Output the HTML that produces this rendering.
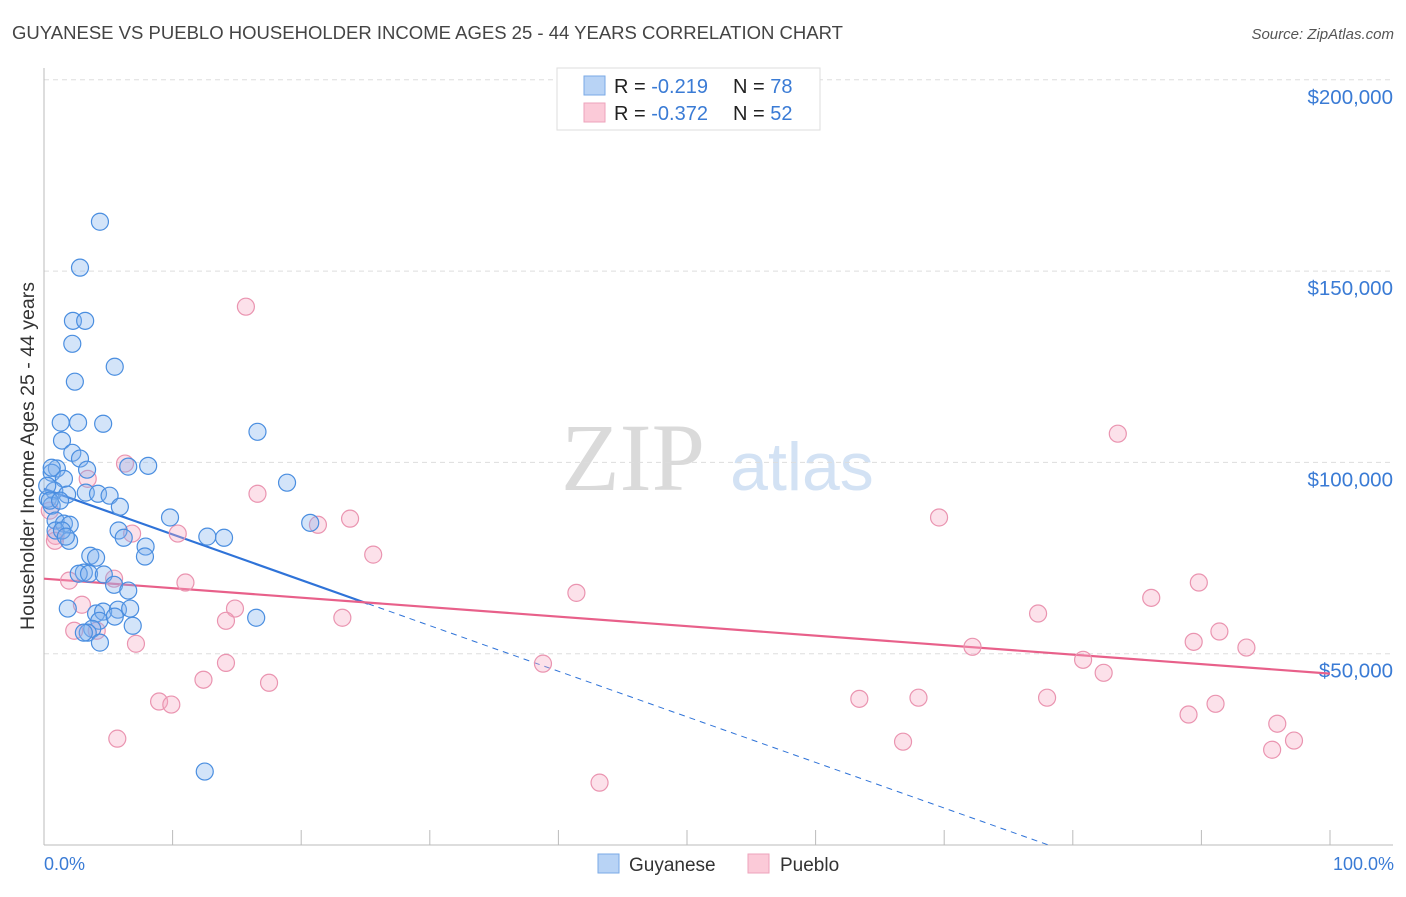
<!DOCTYPE html>
<html><head><meta charset="utf-8"><style>
body{margin:0;background:#fff;font-family:"Liberation Sans",sans-serif}
svg text{font-family:"Liberation Sans",sans-serif}
</style></head><body>
<svg id="chart" width="1406" height="892">
<text x="12" y="39" font-size="18" fill="#444" textLength="831" lengthAdjust="spacingAndGlyphs">GUYANESE VS PUEBLO HOUSEHOLDER INCOME AGES 25 - 44 YEARS CORRELATION CHART</text>
<text x="1394" y="39" font-size="15" fill="#555" font-style="italic" text-anchor="end">Source: ZipAtlas.com</text>
<text x="0" y="0" font-size="19.5" fill="#333" text-anchor="middle" transform="translate(34,456) rotate(-90)">Householder Income Ages 25 - 44 years</text>
<g>
<text x="633" y="490" font-size="96" fill="#dadada" text-anchor="middle" style="font-family:'Liberation Serif',serif">ZIP</text>
<text x="802" y="490" font-size="68" fill="#d3e2f4" text-anchor="middle">atlas</text>
</g>
<g id="grid"></g>
<g id="axes"></g>
<g id="lines"></g>
<g id="points"></g>
<g>
<rect x="557" y="68" width="263" height="62" fill="#fff" stroke="#ddd"/>
<rect x="584" y="76" width="21" height="19" fill="#b8d3f5" stroke="#7aaae6"/>
<rect x="584" y="103" width="21" height="19" fill="#fbcad8" stroke="#eea3bb"/>
<text x="614" y="93" font-size="20" fill="#222">R = <tspan fill="#3a7bd5">-0.219</tspan></text>
<text x="733" y="93" font-size="20" fill="#222">N = <tspan fill="#3a7bd5">78</tspan></text>
<text x="614" y="120" font-size="20" fill="#222">R = <tspan fill="#3a7bd5">-0.372</tspan></text>
<text x="733" y="120" font-size="20" fill="#222">N = <tspan fill="#3a7bd5">52</tspan></text>
</g>
<g>
<rect x="598" y="854" width="21" height="19" fill="#b8d3f5" stroke="#7aaae6"/>
<text x="629" y="871" font-size="19" fill="#333">Guyanese</text>
<rect x="748" y="854" width="21" height="19" fill="#fbcad8" stroke="#eea3bb"/>
<text x="780" y="871" font-size="19" fill="#333">Pueblo</text>
</g>
<text x="44" y="870" font-size="18" fill="#3a7bd5">0.0%</text>
<text x="1394" y="870" font-size="18" fill="#3a7bd5" text-anchor="end">100.0%</text>
</svg>
<script>
const yTicks=[50000,100000,150000,200000];
const yTickLabels=["$50,000","$100,000","$150,000","$200,000"];
const guyX=[4.35,2.8,2.25,3.2,2.2,2.4,5.5,1.3,2.65,4.6,16.6,1.4,2.2,2.8,8.1,6.55,1.0,3.35,0.6,1.55,18.9,0.8,1.8,3.25,4.2,5.1,0.3,0.6,5.9,9.8,20.7,0.9,1.55,2.0,5.8,0.9,1.95,6.2,12.7,14.0,7.9,7.85,3.6,4.05,3.1,2.7,3.5,4.65,5.45,6.55,1.85,4.05,4.6,5.75,6.7,4.3,5.5,6.9,3.75,3.4,3.1,4.35,16.5,12.5,0.25,0.45,0.6,1.25,1.4,1.7];
const guyY=[162.9,150.9,137.0,137.0,131.0,121.1,125.0,110.4,110.4,110.1,108.0,105.7,102.5,101.0,99.1,98.9,98.4,98.1,97.3,95.7,94.7,92.6,91.6,92.1,91.8,91.3,90.5,88.7,88.4,85.6,84.2,84.8,84.0,83.7,82.2,82.2,79.5,80.3,80.6,80.3,78.0,75.4,75.6,75.1,71.2,70.9,70.9,70.7,68.0,66.5,61.8,60.5,61.0,61.5,61.8,58.6,59.7,57.3,56.5,55.5,55.5,52.9,59.4,19.2,93.9,90.0,98.6,90.0,82.2,80.6];
const puebX=[15.7,83.5,6.3,16.6,3.4,69.6,23.8,21.3,10.4,0.9,6.85,25.6,41.4,11.0,5.45,1.95,89.8,86.1,14.85,77.3,23.2,14.15,2.95,91.4,2.35,4.1,89.4,7.15,72.2,93.5,80.8,38.8,14.15,82.4,12.4,17.5,8.95,9.9,63.4,68.0,78.0,91.1,89.0,95.9,66.8,5.7,97.2,95.5,43.2,0.85,0.45];
const puebY=[140.7,107.5,99.7,91.8,95.7,85.6,85.3,83.7,81.4,80.8,81.4,75.9,65.9,68.6,69.6,69.1,68.6,64.6,61.8,60.5,59.4,58.6,62.8,55.8,56.0,56.0,53.1,52.6,51.8,51.6,48.4,47.4,47.6,45.0,43.2,42.4,37.5,36.7,38.2,38.5,38.5,36.9,34.1,31.7,27.0,27.8,27.3,24.9,16.3,79.5,87.4];
const guyFit=[93.1,-1.192];
const puebFit=[69.6,-0.248];
const NS="http://www.w3.org/2000/svg";
const X0=44,X1=1330,Y0=845,PPK=191.3/50;
const sx=p=>X0+(X1-X0)*p/100;
const sy=k=>Y0-k*PPK;
function mk(tag,attrs,parent){const e=document.createElementNS(NS,tag);for(const k in attrs)e.setAttribute(k,attrs[k]);parent.appendChild(e);return e;}
const grid=document.getElementById('grid'),axes=document.getElementById('axes');
yTicks.forEach((t,i)=>{
  const y=sy(t/1000);
  const l=mk('line',{x1:X0,x2:1393,y1:y,y2:y,stroke:'#ddd','stroke-dasharray':'5,4'},grid);
  
  
  const tx=mk('text',{x:1393,y:y+24,'font-size':20.5,fill:'#3a7bd5','text-anchor':'end'},grid);
  tx.textContent=yTickLabels[i];
  
  
});
const la=mk('line',{x1:X0,x2:X0,y1:68,y2:Y0,stroke:'#bbb'},axes);


const ba=mk('line',{x1:X0,x2:1393,y1:Y0,y2:Y0,stroke:'#bbb'},axes);


for(let i=0;i<=10;i++){const x=sx(i*10);const t=mk('line',{x1:x,x2:x,y1:Y0,y2:Y0-15,stroke:'#bbb'},axes);
  
  }
const lines=document.getElementById('lines');
const zeroX=-guyFit[0]/guyFit[1];const solidEnd=25.2;
const b1=mk('line',{x1:sx(0),y1:sy(guyFit[0]),x2:sx(solidEnd),y2:sy(guyFit[0]+guyFit[1]*solidEnd),stroke:'#2f73d8','stroke-width':2.2},lines);


const b2=mk('line',{x1:sx(solidEnd),y1:sy(guyFit[0]+guyFit[1]*solidEnd),x2:sx(zeroX),y2:sy(0),stroke:'#2f73d8','stroke-width':1,'stroke-dasharray':'6,5'},lines);


const p1=mk('line',{x1:sx(0),y1:sy(puebFit[0]),x2:sx(100),y2:sy(puebFit[0]+puebFit[1]*100),stroke:'#e8608a','stroke-width':2.2},lines);


const pts=document.getElementById('points');
puebX.forEach((x,i)=>{const c=mk('circle',{cx:sx(x),cy:sy(puebY[i]),r:8.5,fill:'rgba(246,170,195,0.35)',stroke:'#ea94b0','stroke-width':1.2},pts);
  
  });
guyX.forEach((x,i)=>{const c=mk('circle',{cx:sx(x),cy:sy(guyY[i]),r:8.5,fill:'rgba(130,178,238,0.35)',stroke:'#4a8ee0','stroke-width':1.2},pts);
  
  });
</script>
</body></html>
